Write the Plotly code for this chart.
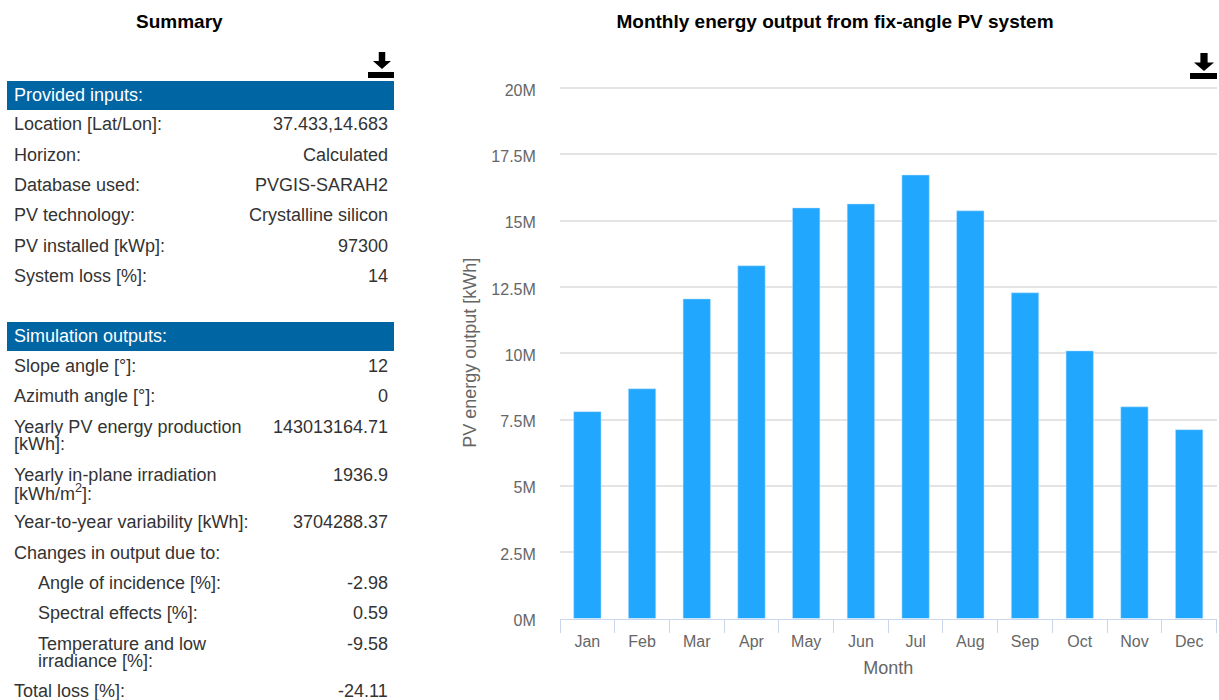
import plotly.graph_objects as go

# ---- data ----
months = ["Jan", "Feb", "Mar", "Apr", "May", "Jun", "Jul", "Aug", "Sep", "Oct", "Nov", "Dec"]
energy_kwh = [7.80e6, 8.66e6, 12.05e6, 13.30e6, 15.48e6, 15.63e6, 16.72e6, 15.37e6, 12.28e6, 10.09e6, 7.98e6, 7.12e6]
y_ticks = [0, 2.5e6, 5e6, 7.5e6, 10e6, 12.5e6, 15e6, 17.5e6, 20e6]
y_tick_labels = ["0M", "2.5M", "5M", "7.5M", "10M", "12.5M", "15M", "17.5M", "20M"]

input_labels = ["Location [Lat/Lon]:", "Horizon:", "Database used:", "PV technology:", "PV installed [kWp]:", "System loss [%]:"]
input_values = ["37.433,14.683", "Calculated", "PVGIS-SARAH2", "Crystalline silicon", "97300", "14"]
output_labels = ["Slope angle [°]:", "Azimuth angle [°]:", "Yearly PV energy production", "[kWh]:",
                 "Yearly in-plane irradiation", "[kWh/m<sup>2</sup>]:", "Year-to-year variability [kWh]:",
                 "Changes in output due to:", "Angle of incidence [%]:", "Spectral effects [%]:",
                 "Temperature and low", "irradiance [%]:", "Total loss [%]:"]
output_values = ["12", "0", "143013164.71", "", "1936.9", "", "3704288.37", "", "-2.98", "0.59", "-9.58", "", "-24.11"]

# ---- layout helpers (pixel positions on the 1219x700 page) ----
W, H = 1219, 700
px = lambda x: x / W
py = lambda y: 1 - y / H
FONT = "Liberation Sans, Arial, sans-serif"
TXT = "#333333"
BLUE = "#0065A3"
GREY = "#666666"
input_y = [124, 155, 185, 215, 246, 276]
output_y = [366, 396, 427, 444, 475, 492, 522, 553, 583, 613, 644, 661, 691]
output_x = [14, 14, 14, 14, 14, 14, 14, 14, 38, 38, 38, 38, 14]


def note(text, x, y, anchor="left", color=TXT, size=18, bold=False):
    return dict(text=f"<b>{text}</b>" if bold else text, x=px(x), y=py(y), xref="paper", yref="paper",
                xanchor=anchor, yanchor="middle", showarrow=False, borderpad=0, borderwidth=0,
                font=dict(family=FONT, size=size, color=color))


def icon(x0, x1, y0, y1, bx0, bx1, by0, by1):
    """Download glyph: arrow plus tray."""
    cx = (x0 + x1) / 2
    sw = (x1 - x0) * 0.18
    head = y0 + (y1 - y0) * 0.53
    pts = [(cx - sw, y0), (cx + sw, y0), (cx + sw, head), (x1, head), (cx, y1), (x0, head), (cx - sw, head)]
    arrow = "M" + " L".join(f"{px(a):.5f},{py(b):.5f}" for a, b in pts) + " Z"
    return [
        dict(type="path", path=arrow, xref="paper", yref="paper", fillcolor="black", line_width=0),
        dict(type="rect", x0=px(bx0), x1=px(bx1), y0=py(by0), y1=py(by1), xref="paper", yref="paper",
             fillcolor="black", line_width=0),
    ]


annotations = [note("Summary", 179, 21, "center", "black", 19, True),
               note("Provided inputs:", 14, 95, color="white"),
               note("Simulation outputs:", 14, 336, color="white")]
for label, value, y in zip(input_labels, input_values, input_y):
    annotations.append(note(label, 14, y))
    annotations.append(note(value, 388, y, "right"))
for label, value, x, y in zip(output_labels, output_values, output_x, output_y):
    annotations.append(note(label, x, y))
    if value:
        annotations.append(note(value, 388, y, "right"))

shapes = [
    dict(type="rect", x0=px(7), x1=px(394), y0=py(81), y1=py(110), xref="paper", yref="paper",
         fillcolor=BLUE, line_width=0),
    dict(type="rect", x0=px(7), x1=px(394), y0=py(322), y1=py(351), xref="paper", yref="paper",
         fillcolor=BLUE, line_width=0),
]
shapes += icon(373, 391, 52, 69, 368, 394, 72, 78)
shapes += icon(1194, 1214, 53, 71, 1190, 1217, 73, 79)

fig = go.Figure(go.Bar(x=months, y=energy_kwh, width=0.5,
                       marker=dict(color="#22A7FF", line=dict(color="#BFE3FF", width=0.5))))
fig.update_layout(
    width=W, height=H, autosize=False,
    margin=dict(l=0, r=0, t=0, b=0, autoexpand=False),
    paper_bgcolor="white", plot_bgcolor="white", showlegend=False,
    font=dict(family=FONT, color=GREY, size=16),
    title=dict(text="<b>Monthly energy output from fix-angle PV system</b>",
               x=px(835), y=py(21), xref="paper", yref="paper", xanchor="center", yanchor="middle",
               automargin=False, font=dict(family=FONT, size=19, color="black")),
    xaxis=dict(domain=[px(560), px(1216.5)], tickson="boundaries", ticks="outside", ticklen=13, tickwidth=1,
               tickcolor="#CCD6EB", showline=True, linecolor="#CCD6EB", linewidth=1, showgrid=False,
               automargin=False, ticklabelstandoff=8, tickfont=dict(family=FONT, size=16, color=GREY),
               title=dict(text="Month", standoff=12, font=dict(family=FONT, size=18, color=GREY))),
    yaxis=dict(domain=[py(618.5), py(87)], range=[0, 20.04e6], tickvals=y_ticks, ticktext=y_tick_labels,
               ticks="outside", ticklen=20, tickcolor="rgba(0,0,0,0)", showgrid=True, gridcolor="#E4E4E4",
               gridwidth=1.5, zeroline=False, showline=False, ticklabelshift=2,
               automargin=False, tickfont=dict(family=FONT, size=16, color=GREY),
               title=dict(text="PV energy output [kWh]", standoff=10, font=dict(family=FONT, size=18, color=GREY))),
    annotations=annotations, shapes=shapes,
)
fig.write_html("out.html", config={"displayModeBar": False}, post_script="document.body.style.margin='0';")
